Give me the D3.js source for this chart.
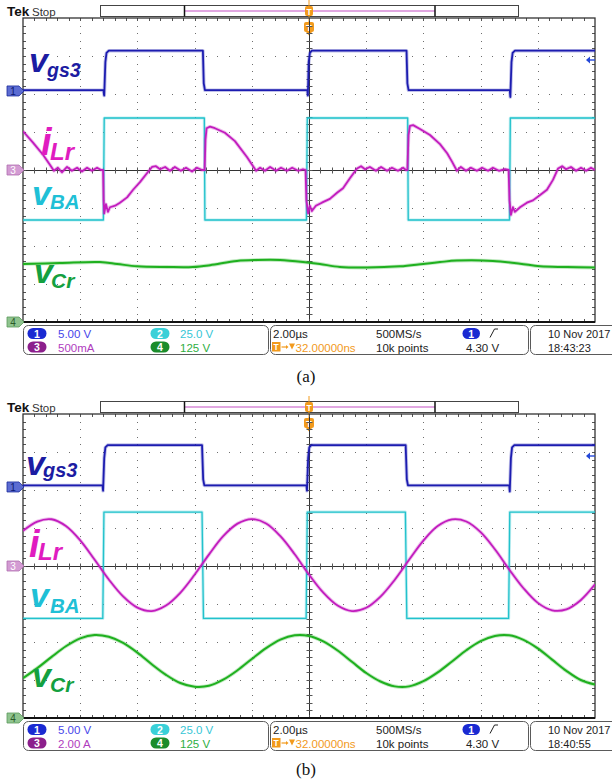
<!DOCTYPE html>
<html>
<head>
<meta charset="utf-8">
<script src="https://cdn.jsdelivr.net/npm/d3@7"></script>
<style>
  body { margin: 0; background: #fff; }
  svg { display: block; }
</style>
</head>
<body>
<div id="chart"></div>
<script>
// time axis in µs, 2.00 µs/div over 10 divisions, trigger in the middle
var timeDomain = [-10, 10];

// ---- panel (a) ----  [time µs, value]
var vgs3A = [[-10,0.1],[-7.19,0.1],[-7.16,-0.6],[-7.12,3.8],[-7.08,5.0],[-7.0,5.3],[-3.71,5.3],[-3.68,1.0],[-3.64,0.1],
  [-0.06,0.1],[-0.04,-0.6],[-0.01,3.8],[0.03,5.0],[0.1,5.3],[3.41,5.3],[3.44,1.0],[3.48,0.1],
  [7.02,0.1],[7.04,-0.8],[7.08,3.8],[7.12,5.0],[7.2,5.3],[10,5.3]];
var vBAA = [[-10,-32.9],[-7.19,-32.9],[-7.16,34.2],[-3.66,34.2],[-3.64,-32.9],[-0.09,-32.9],[-0.06,34.2],
  [3.45,34.2],[3.47,-32.9],[7.01,-32.9],[7.04,34.2],[10,34.2]];
var iLrA = [[-10.00,0.51],[-9.65,0.36],[-9.30,0.20],[-9.06,0.07],[-8.92,-0.01],[-8.78,0.03],[-8.64,-0.03],[-8.46,0.04],
  [-8.29,-0.01],[-8.11,0.03],[-7.94,-0.02],[-7.76,0.03],[-7.59,-0.01],[-7.41,0.03],[-7.27,0.00],
  [-7.20,0.00],[-7.18,-0.40],[-7.16,-0.57],[-7.10,-0.45],[-7.03,-0.55],[-6.96,-0.49],[-6.78,-0.47],[-6.61,-0.43],
  [-6.36,-0.36],[-6.15,-0.26],[-5.91,-0.16],[-5.66,-0.04],[-5.49,0.04],[-5.35,0.05],[-5.21,0.01],
  [-5.03,0.04],[-4.86,-0.01],[-4.69,0.04],[-4.48,-0.01],[-4.30,0.03],[-4.09,-0.02],[-3.92,0.03],[-3.74,0.00],
  [-3.65,0.00],[-3.62,0.40],[-3.58,0.55],[-3.46,0.57],[-3.29,0.55],[-2.94,0.49],[-2.59,0.38],[-2.17,0.17],[-1.99,0.07],[-1.85,-0.01],
  [-1.71,0.03],[-1.54,-0.01],[-1.36,0.04],[-1.15,-0.01],[-0.98,0.03],[-0.77,-0.01],[-0.59,0.03],[-0.38,-0.01],[-0.21,0.01],
  [-0.12,0.00],[-0.09,-0.40],[-0.03,-0.57],[0.03,-0.47],[0.10,-0.54],[0.24,-0.47],[0.45,-0.43],[0.73,-0.38],[0.98,-0.30],
  [1.19,-0.24],[1.43,-0.11],[1.68,0.02],[1.82,0.05],[1.96,0.01],
  [2.13,0.04],[2.34,-0.01],[2.52,0.04],[2.73,-0.01],[2.90,0.03],[3.11,-0.01],[3.29,0.03],[3.39,0.00],
  [3.44,0.00],[3.48,0.46],[3.53,0.58],[3.64,0.59],[3.88,0.54],[4.23,0.46],[4.58,0.34],[4.83,0.22],[5.00,0.11],[5.17,-0.01],
  [5.31,0.04],[5.49,-0.01],[5.66,0.03],[5.87,-0.01],[6.05,0.03],[6.26,-0.01],[6.43,0.03],[6.64,-0.01],[6.85,0.01],
  [6.98,0.00],[7.01,-0.40],[7.06,-0.59],[7.13,-0.49],[7.20,-0.55],[7.38,-0.49],[7.62,-0.43],[7.83,-0.40],[8.08,-0.33],
  [8.32,-0.26],[8.53,-0.13],[8.71,0.02],[8.85,0.05],[8.99,0.01],
  [9.16,0.04],[9.34,-0.01],[9.51,0.03],[9.69,-0.01],[9.86,0.03],[10.00,0.00]];
var vCrA = [[-10,191],[-8.71,194],[-7.31,197],[-6.71,191],[-6.01,183],[-4.97,181],[-4.06,181],[-3.46,187],[-2.52,201],
  [-1.82,204],[-1.01,204],[-0.07,196],[0.38,191],[1.08,181],[2.03,179],[3.18,183],[3.99,191],[4.58,197],[5.17,202],
  [6.43,201],[7.38,192],[8.08,183],[9.02,181],[10,179]];

// ---- panel (b) ----
var vgs3B = [[-10,0.2],[-7.22,0.2],[-7.20,-0.5],[-7.16,3.8],[-7.12,5.2],[-7.04,5.5],[-3.74,5.5],[-3.70,1.0],[-3.66,0.2],
  [-0.09,0.2],[-0.07,-0.5],[-0.03,3.8],[0.01,5.2],[0.08,5.5],[3.38,5.5],[3.42,1.0],[3.46,0.2],
  [7.0,0.2],[7.02,-0.6],[7.06,3.8],[7.10,5.2],[7.18,5.5],[10,5.5]];
var vBAB = [[-10,-34.5],[-7.21,-34.5],[-7.17,35.5],[-3.74,35.5],[-3.69,-34.5],[-0.10,-34.5],[-0.06,35.5],
  [3.37,35.5],[3.42,-34.5],[6.98,-34.5],[7.02,35.5],[10,35.5]];
var iLrB = [[-10,1.85],[-9.5,2.34],[-9.0,2.46],[-8.5,2.10],[-8.0,1.35],[-7.5,0.34],[-7.0,-0.71],[-6.5,-1.60],[-6.0,-2.19],
  [-5.5,-2.37],[-5.0,-2.08],[-4.5,-1.41],[-4.0,-0.46],[-3.5,0.60],[-3.0,1.57],[-2.5,2.23],[-2.0,2.47],[-1.5,2.24],
  [-1.0,1.57],[-0.5,0.62],[0,-0.45],[0.5,-1.40],[1.0,-2.08],[1.5,-2.37],[2.0,-2.20],[2.5,-1.61],[3.0,-0.72],[3.5,0.33],
  [4.0,1.34],[4.5,2.10],[5.0,2.45],[5.5,2.34],[6.0,1.78],[6.5,0.88],[7.0,-0.18],[7.5,-1.17],[8.0,-1.94],[8.5,-2.33],
  [9.0,-2.28],[9.5,-1.80],[10,-0.97]];
var vCrB = [[-10,131],[-9.5,164],[-9.0,201],[-8.5,236],[-8.0,262],[-7.5,273],[-7.0,267],[-6.5,247],[-6.0,215],[-5.5,177],
  [-5.0,142],[-4.5,115],[-4.0,103],[-3.5,106],[-3.0,126],[-2.5,157],[-2.0,194],[-1.5,230],[-1.0,258],[-0.5,272],
  [0,270],[0.5,252],[1.0,222],[1.5,185],[2.0,148],[2.5,120],[3.0,104],[3.5,104],[4.0,121],[4.5,150],[5.0,186],
  [5.5,223],[6.0,253],[6.5,270],[7.0,272],[7.5,257],[8.0,229],[8.5,192],[9.0,155],[9.5,125],[10,110]];

// scope settings
var channelNames = ["1", "2", "3", "4"];
var voltsPerDivA = [5, 25, 0.5, 125];
var voltsPerDivB = [5, 25, 2, 125];
var scaleTextA = ["5.00 V", "25.0 V", "500mA", "125 V"];
var scaleTextB = ["5.00 V", "25.0 V", "2.00 A", "125 V"];
var timeText = ["2.00µs", "32.00000ns", "500MS/s", "10k points", "4.30 V"];
var stampA = ["10 Nov 2017", "18:43:23"];
var stampB = ["10 Nov 2017", "18:40:55"];

// colours
var traceColor = ["#1c1cb0", "#22c2cc", "#c21cbe", "#1fb01f"];
var badgeColor = ["#1a2ad2", "#3ad0d8", "#8c1f8c", "#1b8c2b"];
var infoColor = ["#4646ea", "#36c6d6", "#b03cbe", "#2fae3f"];
var orange = "#f29a1c";

// ---- layout ----
var X0 = 23, X1 = 595, Y0 = 18, Y1 = 322;
var channelOffset = [2.08, 0, 0, -4]; // ground position, divisions from centre

var svg = d3.select("#chart").append("svg")
    .attr("width", 612).attr("height", 779)
    .style("font-family", "'Liberation Sans', Arial, sans-serif");

svg.append("defs").append("clipPath").attr("id", "plotClip")
  .append("rect").attr("x", X0).attr("y", Y0).attr("width", X1 - X0).attr("height", Y1 - Y0);

var x = d3.scaleLinear().domain(timeDomain).range([X0, X1]);
var xDiv = d3.scaleLinear().domain([0, 10]).range([X0, X1]);
var yDiv = d3.scaleLinear().domain([0, 8]).range([Y0, Y1]);
function px(v) { return Math.round(v) + 0.5; }

function channelScale(vpd, off) {
  return d3.scaleLinear().domain([(-4 - off) * vpd, (4 - off) * vpd]).range([Y1, Y0]);
}

function drawGrid(g) {
  var dots = g.append("g").attr("fill", "#6e6e6e");
  // dotted division lines: a dot at every minor step
  d3.range(1, 10).filter(function(k) { return k !== 5; }).forEach(function(k) {
    d3.range(1, 40).forEach(function(i) {
      dots.append("rect").attr("x", Math.round(xDiv(k))).attr("y", Math.round(yDiv(i / 5))).attr("width", 1).attr("height", 1);
    });
  });
  d3.range(1, 8).filter(function(k) { return k !== 4; }).forEach(function(k) {
    d3.range(1, 50).forEach(function(i) {
      dots.append("rect").attr("x", Math.round(xDiv(i / 5))).attr("y", Math.round(yDiv(k))).attr("width", 1).attr("height", 1);
    });
  });
  var cx = px(xDiv(5)), cy = px(yDiv(4));
  g.append("line").attr("x1", cx).attr("x2", cx).attr("y1", Y0).attr("y2", Y1).attr("stroke", "#333").attr("stroke-width", 1);
  g.append("line").attr("x1", X0).attr("x2", X1).attr("y1", cy).attr("y2", cy).attr("stroke", "#333").attr("stroke-width", 1);

  var ticks = g.append("g").attr("stroke", "#555").attr("stroke-width", 1);
  d3.range(1, 50).forEach(function(i) {
    var xx = px(xDiv(i / 5));
    ticks.append("line").attr("x1", xx).attr("x2", xx).attr("y1", Y0).attr("y2", Y0 + 3);
    ticks.append("line").attr("x1", xx).attr("x2", xx).attr("y1", Y1 - 3).attr("y2", Y1);
    ticks.append("line").attr("x1", xx).attr("x2", xx).attr("y1", cy - 3).attr("y2", cy + 3);
  });
  d3.range(1, 40).forEach(function(i) {
    var yy = px(yDiv(i / 5));
    ticks.append("line").attr("x1", X0).attr("x2", X0 + 3).attr("y1", yy).attr("y2", yy);
    ticks.append("line").attr("x1", X1 - 3).attr("x2", X1).attr("y1", yy).attr("y2", yy);
    ticks.append("line").attr("x1", cx - 3).attr("x2", cx + 3).attr("y1", yy).attr("y2", yy);
  });
  g.append("rect").attr("x", X0).attr("y", Y0).attr("width", X1 - X0).attr("height", Y1 - Y0)
    .attr("fill", "none").attr("stroke", "#333").attr("stroke-width", 1.3);
  g.append("line").attr("x1", X0).attr("x2", X1).attr("y1", Y1).attr("y2", Y1)
    .attr("stroke", "#111").attr("stroke-width", 2);
}

function drawTrace(g, data, ys, color, width, curve) {
  var line = d3.line().x(function(d) { return x(d[0]); }).y(function(d) { return ys(d[1]); }).curve(curve);
  g.append("path").datum(data).attr("d", line).attr("fill", "none")
    .attr("stroke", color).attr("stroke-width", width + 1.8).attr("stroke-opacity", 0.28)
    .attr("stroke-linejoin", "round");
  g.append("path").datum(data).attr("d", line).attr("fill", "none")
    .attr("stroke", color).attr("stroke-width", width).attr("stroke-linejoin", "round");
}

function drawMarker(g, y, fill, stroke, txt, txtCol) {
  g.append("path").attr("d", "M7," + (y - 5) + "L19," + (y - 5) + "L24," + y + "L19," + (y + 5) + "L7," + (y + 5) + "Z")
    .attr("fill", fill).attr("stroke", stroke).attr("stroke-width", 0.8);
  g.append("text").attr("x", 13).attr("y", y + 4).attr("text-anchor", "middle")
    .attr("font-size", 10).attr("fill", txtCol).text(txt);
}

function drawHeader(g) {
  g.append("text").attr("x", 7).attr("y", 16).attr("font-size", 13.5).attr("font-weight", "bold").attr("fill", "#111").text("Tek");
  g.append("text").attr("x", 32).attr("y", 16).attr("font-size", 11.5).attr("fill", "#333").text("Stop");
  g.append("rect").attr("x", 100.5).attr("y", 5.5).attr("width", 418).attr("height", 11)
    .attr("fill", "#fff").attr("stroke", "#444").attr("stroke-width", 1);
  g.append("line").attr("x1", 185).attr("x2", 435).attr("y1", 11).attr("y2", 11)
    .attr("stroke", "#d78ad7").attr("stroke-width", 1.6);
  [184.5, 435].forEach(function(xx) {
    g.append("line").attr("x1", xx).attr("x2", xx).attr("y1", 5.5).attr("y2", 16.5).attr("stroke", "#111").attr("stroke-width", 1.5);
  });
  // trigger position markers
  var tx = x(0);
  g.append("line").attr("x1", tx).attr("x2", tx).attr("y1", 0).attr("y2", 22).attr("stroke", orange).attr("stroke-width", 1);
  g.append("rect").attr("x", tx - 4).attr("y", 6).attr("width", 8).attr("height", 10).attr("rx", 2).attr("fill", orange);
  g.append("text").attr("x", tx).attr("y", 14.5).attr("text-anchor", "middle").attr("font-size", 8.5)
    .attr("font-weight", "bold").attr("fill", "#fff").text("T");
  g.append("rect").attr("x", tx - 5).attr("y", 22).attr("width", 10).attr("height", 10).attr("rx", 2).attr("fill", orange);
  g.append("path").attr("d", "M" + (tx - 3) + ",32L" + (tx + 3) + ",32L" + tx + ",35.5Z").attr("fill", orange);
  g.append("text").attr("x", tx).attr("y", 30.5).attr("text-anchor", "middle").attr("font-size", 9.5)
    .attr("font-weight", "bold").attr("fill", "#fff").text("T");
}

function drawTrigLevel(g, y) {
  g.append("path").attr("d", "M586," + y + "L590," + (y - 3.5) + "L590," + (y + 3.5) + "Z").attr("fill", "#2448d8");
  g.append("line").attr("x1", 589).attr("x2", 595).attr("y1", y).attr("y2", y).attr("stroke", "#2448d8").attr("stroke-width", 1.4);
}

function drawInfo(g, scaleText, stamp) {
  [[23, 268], [270, 528], [530, 640]].forEach(function(b) {
    g.append("rect").attr("x", b[0] + 0.5).attr("y", 325.5).attr("width", b[1] - b[0]).attr("height", 29)
      .attr("rx", 5).attr("fill", "#fff").attr("stroke", "#5a5a5a").attr("stroke-width", 1);
  });
  var rowY = [338, 351.5];
  var badgeX = [37, 160, 37, 160], badgeRow = [0, 0, 1, 1], textX = [58, 180, 58, 180];
  channelNames.forEach(function(n, i) {
    var by = rowY[badgeRow[i]] - 4.5;
    g.append("rect").attr("x", badgeX[i] - 9.5).attr("y", by - 5.5).attr("width", 19).attr("height", 11).attr("rx", 5.5)
      .attr("fill", badgeColor[i]);
    g.append("text").attr("x", badgeX[i]).attr("y", by + 4).attr("text-anchor", "middle").attr("font-size", 10.5)
      .attr("font-weight", "bold").attr("fill", "#fff").text(n);
    g.append("text").attr("x", textX[i]).attr("y", rowY[badgeRow[i]]).attr("font-size", 11.5)
      .attr("fill", infoColor[i]).text(scaleText[i]);
  });
  g.append("text").attr("x", 273).attr("y", rowY[0]).attr("font-size", 11.5).attr("fill", "#222").text(timeText[0]);
  g.append("rect").attr("x", 272).attr("y", 342).attr("width", 8.5).attr("height", 9.5).attr("fill", orange);
  g.append("text").attr("x", 276.2).attr("y", 350).attr("text-anchor", "middle").attr("font-size", 8.5)
    .attr("font-weight", "bold").attr("fill", "#fff").text("T");
  g.append("line").attr("x1", 281.5).attr("x2", 286).attr("y1", 347).attr("y2", 347).attr("stroke", orange).attr("stroke-width", 1.2);
  g.append("path").attr("d", "M286,345L288.5,347L286,349Z").attr("fill", orange);
  g.append("path").attr("d", "M289,343.5L295,343.5L292,349.5Z").attr("fill", orange);
  g.append("text").attr("x", 295.5).attr("y", rowY[1]).attr("font-size", 11.5).attr("fill", orange).text(timeText[1]);
  g.append("text").attr("x", 376).attr("y", rowY[0]).attr("font-size", 11.5).attr("fill", "#222").text(timeText[2]);
  g.append("text").attr("x", 376).attr("y", rowY[1]).attr("font-size", 11.5).attr("fill", "#222").text(timeText[3]);
  g.append("rect").attr("x", 462.5).attr("y", 328).attr("width", 17.5).attr("height", 11).attr("rx", 5.5).attr("fill", badgeColor[0]);
  g.append("text").attr("x", 471.2).attr("y", 337.5).attr("text-anchor", "middle").attr("font-size", 10.5)
    .attr("font-weight", "bold").attr("fill", "#fff").text("1");
  g.append("path").attr("d", "M490,337.5L494.5,329L498,329").attr("fill", "none").attr("stroke", "#222").attr("stroke-width", 1);
  g.append("text").attr("x", 482.5).attr("y", rowY[1]).attr("text-anchor", "middle").attr("font-size", 11.5)
    .attr("fill", "#222").text(timeText[4]);
  g.append("text").attr("x", 548).attr("y", rowY[0]).attr("font-size", 11).attr("fill", "#222").text(stamp[0]);
  g.append("text").attr("x", 548).attr("y", rowY[1]).attr("font-size", 11).attr("fill", "#222").text(stamp[1]);
}

function drawLabel(g, L, color) {
  g.append("text").attr("x", L[0]).attr("y", L[1]).attr("font-size", L[2]).attr("font-weight", "bold")
    .attr("font-style", "italic").attr("fill", color).text(L[3]);
  g.append("text").attr("x", L[4]).attr("y", L[5]).attr("font-size", L[6]).attr("font-weight", "bold")
    .attr("font-style", "italic").attr("fill", color).text(L[7]);
}

var labelColor = ["#1c1ca2", "#1fc0d6", "#e01cc0", "#14a040"];

var panels = [
  { top: 0, vpd: voltsPerDivA, traces: [vgs3A, vBAA, iLrA, vCrA], scaleText: scaleTextA, stamp: stampA,
    curves: [d3.curveLinear, d3.curveLinear, d3.curveLinear, d3.curveCatmullRom],
    labels: [[29, 72, 34, "v", 47, 77, 19.5, "gs3"], [32, 205, 34, "v", 50, 209, 20.5, "BA"],
             [41, 155, 38, "i", 50, 160, 24, "Lr"], [34, 283, 34, "v", 51, 288, 21, "Cr"]],
    caption: "(a)", captionY: 382 },
  { top: 396, vpd: voltsPerDivB, traces: [vgs3B, vBAB, iLrB, vCrB], scaleText: scaleTextB, stamp: stampB,
    curves: [d3.curveLinear, d3.curveLinear, d3.curveCatmullRom, d3.curveCatmullRom],
    labels: [[26, 79, 34, "v", 43, 81, 20, "gs3"], [30, 211, 34, "v", 50, 217, 20.5, "BA"],
             [29, 161, 38, "i", 38, 164, 24, "Lr"], [32, 291, 34, "v", 50, 296, 21, "Cr"]],
    caption: "(b)", captionY: 379 }
];

panels.forEach(function(p) {
  var g = svg.append("g").attr("transform", "translate(0," + p.top + ")");
  drawHeader(g);
  drawGrid(g);
  var ys = p.vpd.map(function(v, i) { return channelScale(v, channelOffset[i]); });
  var tg = g.append("g").attr("clip-path", "url(#plotClip)");
  var widths = [1.8, 1.3, 1.8, 2.0];
  [3, 1, 2, 0].forEach(function(i) {
    drawTrace(tg, p.traces[i], ys[i], traceColor[i], widths[i], p.curves[i]);
  });
  drawMarker(g, ys[0](0), "#5c6cd2", "#1a2a9a", "1", "#0c1870");
  drawMarker(g, ys[2](0), "#d39bd3", "#b070b0", "3", "#fff");
  drawMarker(g, ys[3](0), "#8fc48f", "#5a9a5a", "4", "#2a5a2a");
  drawTrigLevel(g, 60);
  [0, 2, 1, 3].forEach(function(i) { drawLabel(g, p.labels[i], labelColor[i]); });
  drawInfo(g, p.scaleText, p.stamp);
  g.append("text").attr("x", 306).attr("y", p.captionY).attr("text-anchor", "middle")
    .attr("font-family", "'Liberation Serif', 'Times New Roman', serif").attr("font-size", 17)
    .attr("fill", "#111").text(p.caption);
});
</script>
</body>
</html>
